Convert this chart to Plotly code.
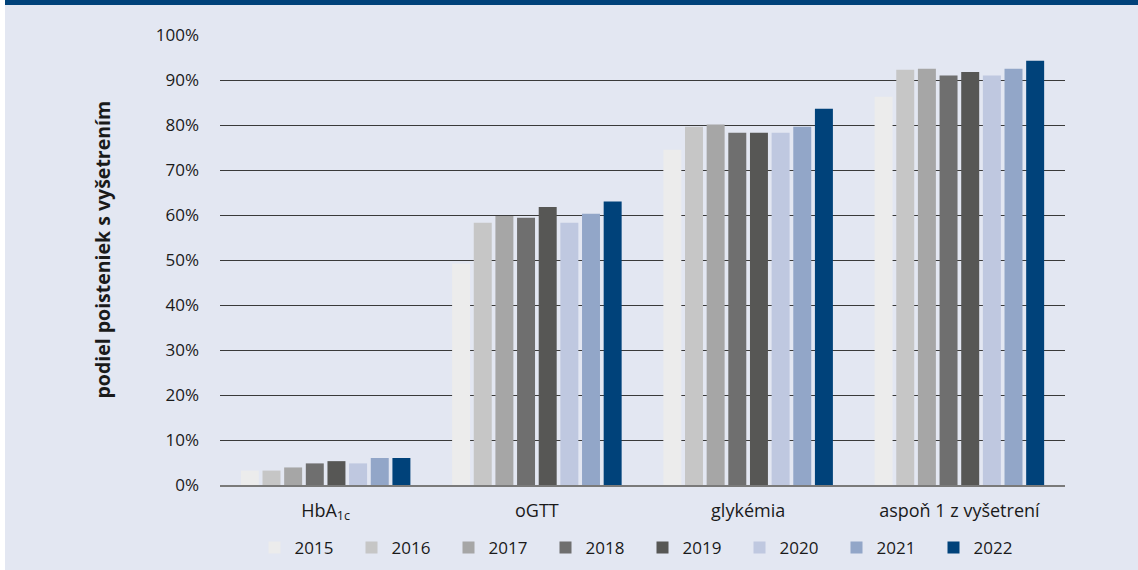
import plotly.graph_objects as go

categories = ["HbA<sub>1c</sub>", "oGTT", "glykémia", "aspoň 1 z vyšetrení"]
years = ["2015", "2016", "2017", "2018", "2019", "2020", "2021", "2022"]
values = {
    "2015": [3.2, 49.2, 74.5, 86.3],
    "2016": [3.2, 58.3, 79.6, 92.3],
    "2017": [3.9, 59.8, 80.1, 92.5],
    "2018": [4.8, 59.4, 78.3, 91.0],
    "2019": [5.3, 61.8, 78.3, 91.8],
    "2020": [4.8, 58.3, 78.3, 91.0],
    "2021": [6.0, 60.3, 79.6, 92.5],
    "2022": [6.0, 63.0, 83.6, 94.3],
}
colors = ["#ececec", "#c6c6c6", "#a6a6a6", "#6f6f6f", "#575755", "#bfc8e0", "#92a6c8", "#00427a"]
yticks = [0, 10, 20, 30, 40, 50, 60, 70, 80, 90, 100]
ytick_labels = [f"{v}%" for v in yticks]
y_title = "podiel poisteniek s vyšetrením"

FONT = "Open Sans"
BG = "#e3e7f2"
W, H = 1138, 570
L, R, T, B = 220, 73, 35, 85
pw, ph = W - L - R, H - T - B

fig = go.Figure()
for y, c in zip(years, colors):
    fig.add_trace(go.Bar(name=y, x=categories, y=values[y], marker_color=c,
                         marker_line_width=0, hoverinfo="skip"))

def px_x(p):
    return (p - L) / pw

def px_y(p):
    return (H - B - p) / ph

shapes = [
    dict(type="rect", xref="paper", yref="paper", x0=px_x(0), x1=px_x(5),
         y0=px_y(H), y1=px_y(0), fillcolor="white", line_width=0, layer="below"),
    dict(type="rect", xref="paper", yref="paper", x0=px_x(5), x1=px_x(W),
         y0=px_y(5), y1=px_y(0), fillcolor="#00427a", line_width=0, layer="below"),
]

fig.update_layout(
    width=W, height=H,
    margin=dict(l=L, r=R, t=T, b=B, pad=0, autoexpand=False),
    paper_bgcolor=BG, plot_bgcolor=BG,
    barmode="group", bargap=0.18, bargroupgap=0.17,
    font=dict(family=FONT, size=17, color="#1a1a1a"),
    showlegend=True,
    legend=dict(orientation="h", x=0.5, xanchor="center",
                y=px_y(548), yanchor="middle",
                font=dict(family=FONT, size=17, color="#1a1a1a"),
                bgcolor="rgba(0,0,0,0)", traceorder="normal",
                entrywidth=52, entrywidthmode="pixels", itemclick=False),
    shapes=shapes,
    annotations=[dict(text=f"<b>{y_title}</b>", textangle=-90, showarrow=False,
                      xref="paper", yref="paper", x=px_x(102), y=px_y(249.5),
                      xanchor="center", yanchor="middle",
                      font=dict(family=FONT, size=19.5, color="#1a1a1a"))],
)
fig.update_yaxes(range=[0, 100], tickvals=yticks, ticktext=ytick_labels,
                 showgrid=True, gridcolor="#3a3a3a", gridwidth=1,
                 zeroline=False, showline=False, ticks="",
                 ticklabelstandoff=20, tickfont=dict(size=17),
                 fixedrange=True)
fig.update_xaxes(showline=True, linecolor="#7a7a7a", linewidth=2, ticks="",
                 ticklabelstandoff=8, tickfont=dict(size=18), fixedrange=True)

fig.write_html("out.html", config={"displayModeBar": False},
               post_script=("document.documentElement.style.background='%s';"
                            "document.body.style.background='%s';"
                            "document.body.style.margin='0';document.body.style.padding='0';") % (BG, BG))
